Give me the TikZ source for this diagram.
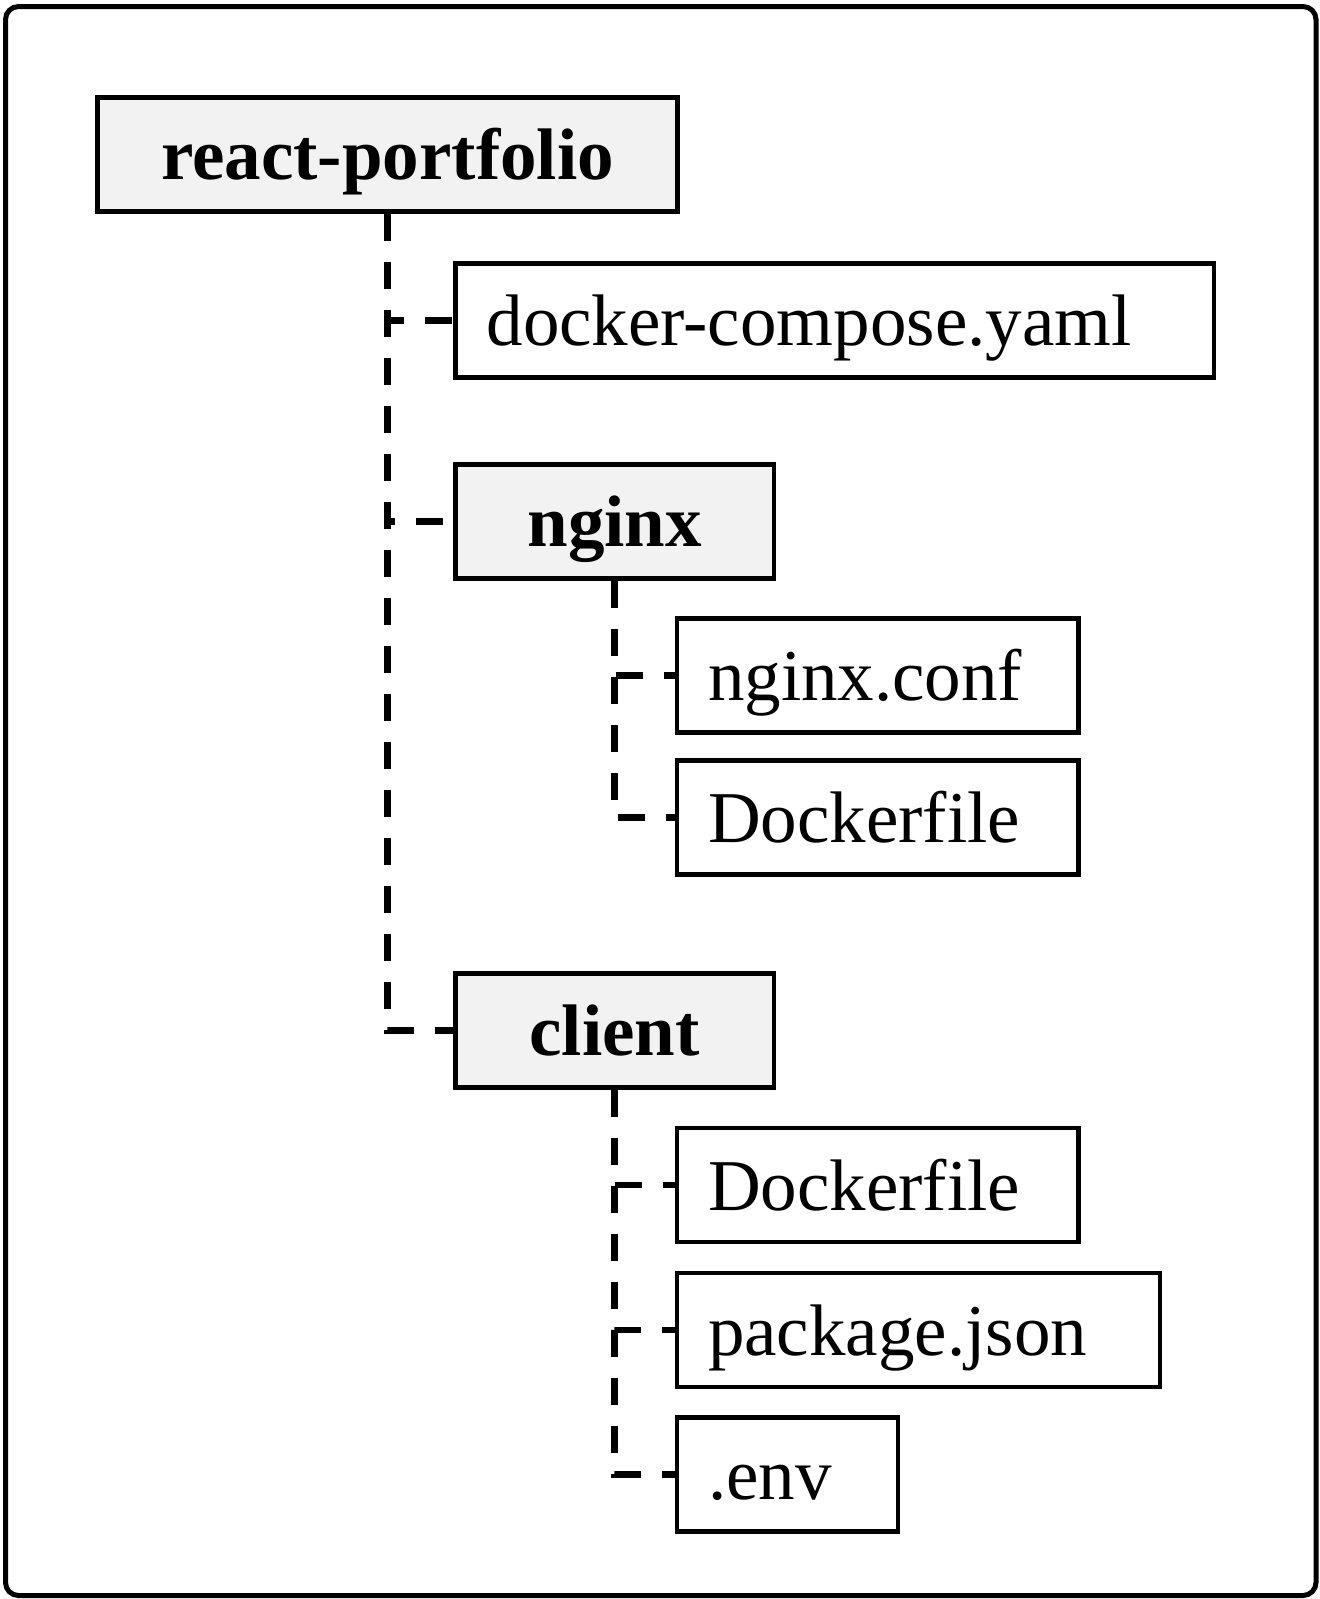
\documentclass[tikz,border=0pt]{standalone}
\usepackage{fontspec}
\setmainfont{Liberation Serif}
\definecolor{dirgray}{HTML}{F2F2F2}
\tikzset{
  box/.style={draw=black, line width=4.5pt, minimum height=114pt, inner ysep=0pt,
    text height=51pt, text depth=1pt, font=\fontsize{73}{80}\selectfont},
  dirbox/.style={box, fill=dirgray, inner xsep=0pt, font=\fontsize{73}{80}\selectfont\bfseries},
  leafbox/.style={box, fill=white, align=left, inner xsep=31pt},
  conn/.style={draw=black, line width=6.5pt, dash pattern=on 27pt off 21pt},
  frame/.style={draw=black, line width=5pt, rounded corners=13pt}
}
\begin{document}
\begin{tikzpicture}[x=1pt, y=-1pt]
\useasboundingbox (0,0) rectangle (1320,1599);
\draw[frame] (5.5,6.5) rectangle (1316,1595.5);

\node[dirbox, minimum width=580pt] (root) at (387.5,154.5) {react-portfolio};
\node[leafbox, text width=696.5pt] (dc) at (834.75,320.5) {docker-compose.yaml};
\node[dirbox, minimum width=318.5pt] (nginx) at (614.7,521.5) {nginx};
\node[leafbox, text width=339.5pt] (nconf) at (877.75,675.5) {nginx.conf};
\node[leafbox, text width=339.5pt] (ndock) at (877.75,817.5) {Dockerfile};
\node[dirbox, minimum width=318.5pt] (client) at (614.7,1030.5) {client};
\node[leafbox, text width=339.5pt] (cdock) at (877.75,1185) {Dockerfile};
\node[leafbox, text width=421pt] (cpkg) at (918.5,1330) {package.json};
\node[leafbox, text width=159pt] (cenv) at (787.5,1474.7) {.env};

\draw[conn] (root.south) |- (dc.west);
\draw[conn] (root.south) |- (nginx.west);
\draw[conn] (root.south) |- (client.west);
\draw[conn] (nginx.south) |- (nconf.west);
\draw[conn] (nginx.south) |- (ndock.west);
\draw[conn] (client.south) |- (cdock.west);
\draw[conn] (client.south) |- (cpkg.west);
\draw[conn] (client.south) |- (cenv.west);
\end{tikzpicture}
\end{document}
